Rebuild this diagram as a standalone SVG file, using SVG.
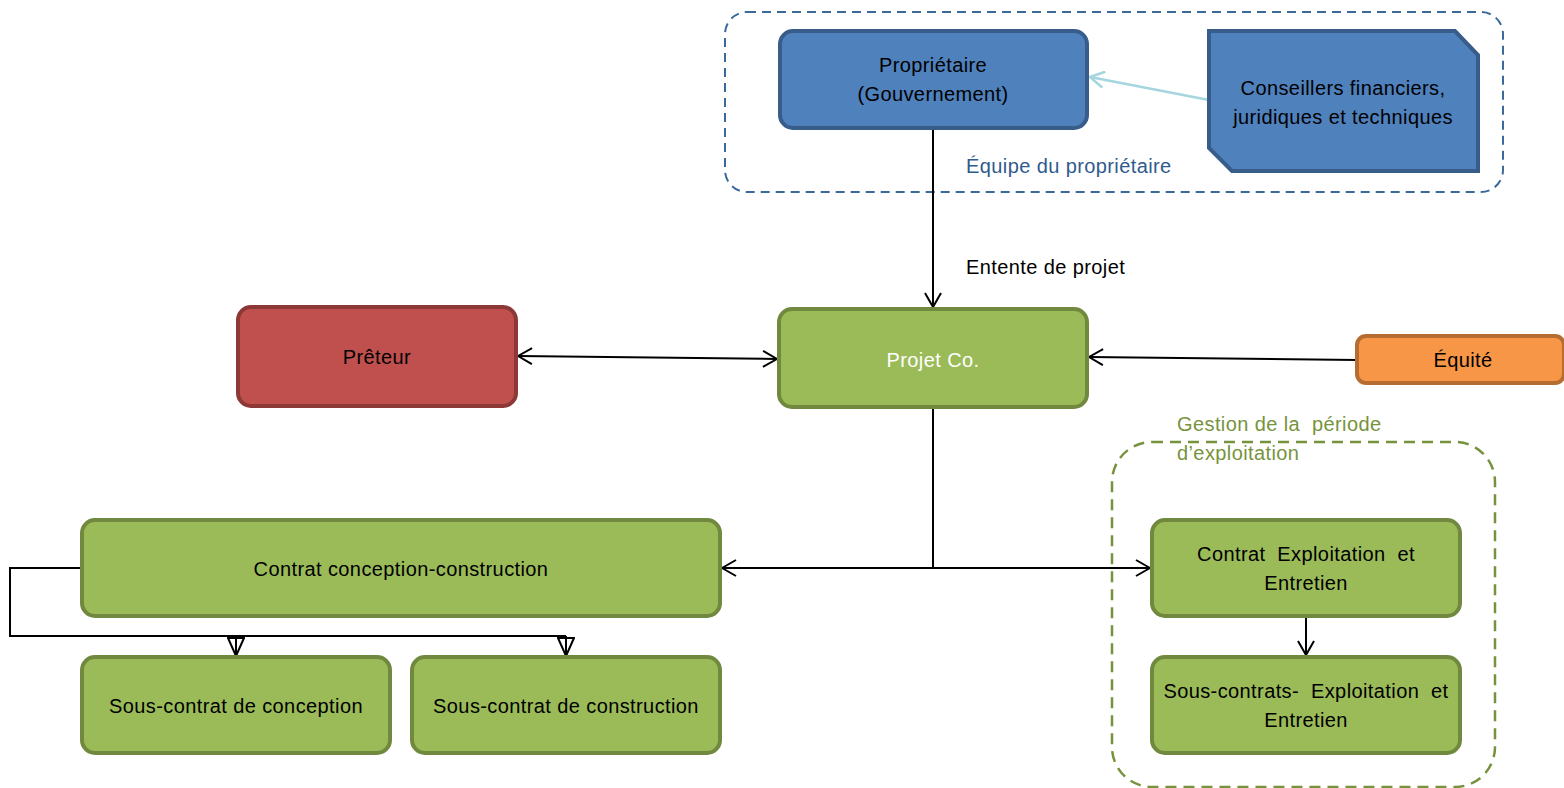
<svg xmlns="http://www.w3.org/2000/svg" width="1564" height="788" viewBox="0 0 1564 788">
<style>
text{font-family:"Liberation Sans",Arial,sans-serif;font-size:20px;letter-spacing:0.4px;fill:#000;text-anchor:middle}
.blue{fill:#4f81bd;stroke:#385d8a;stroke-width:4}
.green{fill:#9bbb59;stroke:#71893f;stroke-width:4}
.red{fill:#c0504d;stroke:#8c3836;stroke-width:4}
.orange{fill:#f79646;stroke:#b66d31;stroke-width:4}
.conn{fill:none;stroke:#000;stroke-width:2}
</style>
<defs>
<marker id="arr" viewBox="0 0 16 18" refX="15" refY="9" markerWidth="16" markerHeight="18" markerUnits="userSpaceOnUse" orient="auto-start-reverse">
<path d="M1,1 L15,9 L1,17" fill="none" stroke="#000" stroke-width="2"/>
</marker>
<marker id="arrL" viewBox="0 0 16 18" refX="15" refY="9" markerWidth="16" markerHeight="18" markerUnits="userSpaceOnUse" orient="auto-start-reverse">
<path d="M1,1 L15,9 L1,17" fill="none" stroke="#a5d5df" stroke-width="2.5"/>
</marker>
<marker id="tri" viewBox="0 0 20 18" refX="19" refY="9" markerWidth="20" markerHeight="18" markerUnits="userSpaceOnUse" orient="auto">
<path d="M1,1 L19,9 L1,17 Z" fill="#fff" stroke="#000" stroke-width="2"/>
<path d="M0,9 L19,9" stroke="#000" stroke-width="2"/>
</marker>
</defs>
<g id="group-owner">
<rect x="725" y="12" width="778" height="180" rx="22" fill="none" stroke="#3a6a9c" stroke-width="2" stroke-dasharray="9,6"/>
<text x="966" y="173" style="text-anchor:start;fill:#2f5b8e">Équipe du propriétaire</text>
</g>
<g id="group-ops">
<rect x="1112" y="442" width="383" height="345" rx="40" fill="none" stroke="#76923c" stroke-width="2.5" stroke-dasharray="11,7"/>
<text x="1177" y="431" style="text-anchor:start;fill:#77933c" xml:space="preserve">Gestion de la  période</text>
<text x="1177" y="460" style="text-anchor:start;fill:#77933c">d’exploitation</text>
</g>
<g id="connectors">
<line x1="1209" y1="100" x2="1090" y2="77" stroke="#a5d5df" stroke-width="2.5" marker-end="url(#arrL)"/>
<line x1="933" y1="129" x2="933" y2="307" class="conn" marker-end="url(#arr)"/>
<text x="966" y="274" style="text-anchor:start">Entente de projet</text>
<line x1="518" y1="356" x2="777" y2="359" class="conn" marker-start="url(#arr)" marker-end="url(#arr)"/>
<line x1="1357" y1="360" x2="1089" y2="357" class="conn" marker-end="url(#arr)"/>
<line x1="933" y1="408" x2="933" y2="568" class="conn"/>
<line x1="722" y1="568" x2="1150" y2="568" class="conn" marker-start="url(#arr)" marker-end="url(#arr)"/>
<polyline points="82,568 10,568 10,636 566,636" class="conn"/>
<line x1="236" y1="636" x2="236" y2="656" class="conn" marker-end="url(#tri)"/>
<line x1="566" y1="636" x2="566" y2="656" class="conn" marker-end="url(#tri)"/>
<line x1="1306" y1="617" x2="1306" y2="655" class="conn" marker-end="url(#arr)"/>
</g>
<g id="proprietaire">
<rect x="780" y="31" width="307" height="97" rx="13" class="blue"/>
<text x="933" y="72">Propriétaire</text>
<text x="933" y="101">(Gouvernement)</text>
</g>
<g id="conseillers">
<path d="M1209,31 L1455,31 L1478,55 L1478,171 L1232,171 L1209,148 Z" class="blue"/>
<text x="1343" y="95">Conseillers financiers,</text>
<text x="1343" y="124">juridiques et techniques</text>
</g>
<g id="preteur">
<rect x="238" y="307" width="278" height="99" rx="13" class="red"/>
<text x="377" y="364">Prêteur</text>
</g>
<g id="projetco">
<rect x="779" y="309" width="308" height="98" rx="13" class="green"/>
<text x="933" y="367" style="fill:#fff">Projet Co.</text>
</g>
<g id="equite">
<rect x="1357" y="336" width="207" height="47" rx="9" class="orange"/>
<text x="1463" y="367">Équité</text>
</g>
<g id="contrat-cc">
<rect x="82" y="520" width="638" height="96" rx="13" class="green"/>
<text x="401" y="576">Contrat conception-construction</text>
</g>
<g id="sous-conception">
<rect x="82" y="657" width="308" height="96" rx="13" class="green"/>
<text x="236" y="713">Sous-contrat de conception</text>
</g>
<g id="sous-construction">
<rect x="412" y="657" width="308" height="96" rx="13" class="green"/>
<text x="566" y="713">Sous-contrat de construction</text>
</g>
<g id="contrat-ee">
<rect x="1152" y="520" width="308" height="96" rx="13" class="green"/>
<text x="1306" y="561" xml:space="preserve">Contrat  Exploitation  et</text>
<text x="1306" y="590">Entretien</text>
</g>
<g id="sous-ee">
<rect x="1152" y="657" width="308" height="96" rx="13" class="green"/>
<text x="1306" y="698" xml:space="preserve">Sous-contrats-  Exploitation  et</text>
<text x="1306" y="727">Entretien</text>
</g>
</svg>
